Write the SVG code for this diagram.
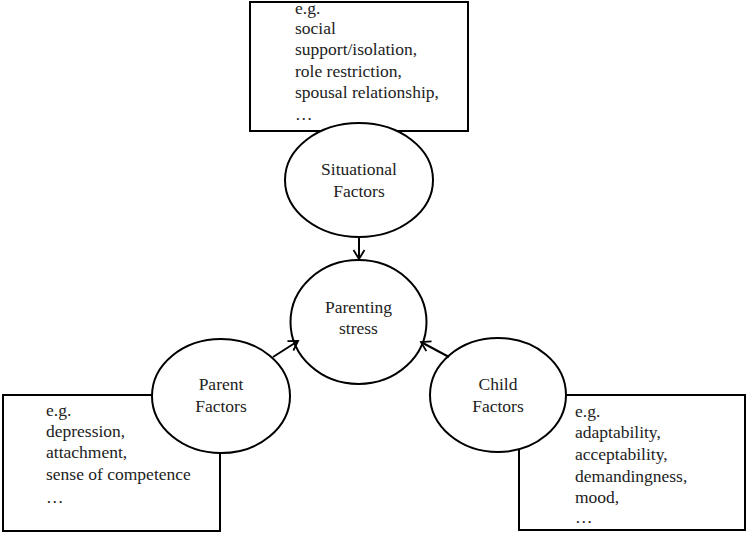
<svg xmlns="http://www.w3.org/2000/svg" width="749" height="533" viewBox="0 0 749 533">
<style>
.box{fill:#fff;stroke:#000;stroke-width:2}
.ell{fill:#fff;stroke:#000;stroke-width:2}
.t{font-family:"Liberation Serif","Times New Roman",serif;font-size:17.5px;fill:#222}
.c{text-anchor:middle}
.conn{stroke:#000;stroke-width:2;fill:none}
</style>
<defs>
<marker id="arr" markerUnits="userSpaceOnUse" markerWidth="14" markerHeight="14" refX="11" refY="7" orient="auto">
<path d="M2,1.5 L11,7 L2,12.5" fill="none" stroke="#000" stroke-width="1.8"/>
</marker>
</defs>
<g id="situational-box">
<rect class="box" x="250" y="2" width="218" height="129"/>
<text class="t" x="295" y="14">e.g.</text>
<text class="t" x="295" y="34">social</text>
<text class="t" x="295" y="55">support/isolation,</text>
<text class="t" x="295" y="77">role restriction,</text>
<text class="t" x="295" y="98">spousal relationship,</text>
<text class="t" x="295" y="120">…</text>
</g>
<g id="parent-box">
<rect class="box" x="3" y="395" width="217" height="136"/>
<text class="t" x="46" y="416">e.g.</text>
<text class="t" x="46" y="437">depression,</text>
<text class="t" x="46" y="458">attachment,</text>
<text class="t" x="46" y="480">sense of competence</text>
<text class="t" x="46" y="503">…</text>
</g>
<g id="child-box">
<rect class="box" x="519" y="395" width="226" height="135"/>
<text class="t" x="575" y="417">e.g.</text>
<text class="t" x="575" y="438">adaptability,</text>
<text class="t" x="575" y="460">acceptability,</text>
<text class="t" x="575" y="482">demandingness,</text>
<text class="t" x="575" y="503">mood,</text>
<text class="t" x="575" y="523">…</text>
</g>
<g id="situational">
<ellipse class="ell" cx="359" cy="180" rx="74" ry="57"/>
<text class="t c" x="359" y="175">Situational</text>
<text class="t c" x="359" y="197">Factors</text>
</g>
<g id="parenting-stress">
<ellipse class="ell" cx="358.5" cy="322" rx="68" ry="62"/>
<text class="t c" x="358.5" y="313">Parenting</text>
<text class="t c" x="358.5" y="334">stress</text>
</g>
<g id="parent">
<ellipse class="ell" cx="221" cy="396" rx="69" ry="57"/>
<text class="t c" x="221" y="390">Parent</text>
<text class="t c" x="221" y="412">Factors</text>
</g>
<g id="child">
<ellipse class="ell" cx="498" cy="395" rx="68" ry="57"/>
<text class="t c" x="498" y="390">Child</text>
<text class="t c" x="498" y="412">Factors</text>
</g>
<g id="connectors">
<line class="conn" x1="359" y1="237" x2="359" y2="259" marker-end="url(#arr)"/>
<line class="conn" x1="273" y1="357" x2="298" y2="341" marker-end="url(#arr)"/>
<line class="conn" x1="449" y1="357" x2="421" y2="342" marker-end="url(#arr)"/>
</g>
</svg>
